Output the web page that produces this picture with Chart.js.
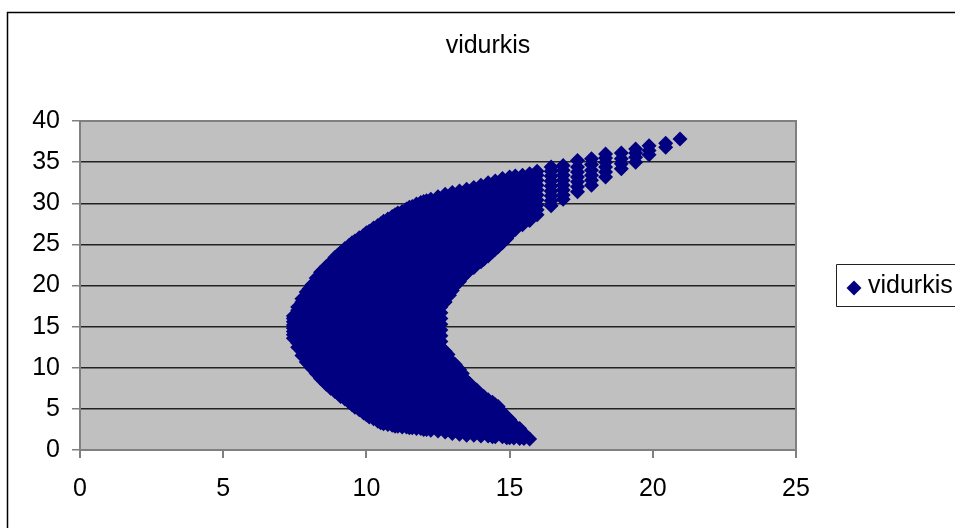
<!DOCTYPE html>
<html>
<head>
<meta charset="utf-8">
<script src="https://cdn.jsdelivr.net/npm/chart.js@4"></script>
<style>
html, body { margin: 0; padding: 0; background: #fff; overflow: hidden; }
canvas { display: block; }
</style>
</head>
<body>
<canvas id="myChart" width="955" height="528"></canvas>
<script>
const seriesName = 'vidurkis';
const xTicks = [0, 5, 10, 15, 20, 25];
const yTicks = [0, 5, 10, 15, 20, 25, 30, 35, 40];

// x of each column of diamonds
const columnX = [
    7.45, 7.6, 7.75, 7.9, 8, 8.1, 8.25, 8.4, 8.5, 8.6, 8.75, 8.9, 9, 9.1, 9.25, 9.4, 9.5, 9.6, 9.75, 9.9,
    10, 10.1, 10.25, 10.4, 10.5, 10.6, 10.75, 10.9, 11, 11.1, 11.25, 11.4, 11.5, 11.6, 11.75, 11.9,
    12, 12.1, 12.25, 12.5, 12.75, 13, 13.25, 13.5, 13.75, 14, 14.25, 14.5, 14.75, 15, 15.2,
    15.35, 15.45, 15.7, 15.96, 16.45, 16.87, 17.37, 17.86, 18.35, 18.9, 19.4, 19.87, 20.45, 20.95,
    // inner edge of the crescent and the lower arm
    12.6, 12.85, 12.9, 13.1, 13.35, 13.6, 13.85, 14.1, 14.4, 14.6, 14.9, 15.15, 15.5, 15.7
];

// y values in the same order as columnX
const columnY = [
    [13.6, 14, 14.4, 14.8, 15.2, 15.6, 16, 16.3],
    [12.5, 13, 13.5, 14, 14.5, 15, 15.5, 16, 16.5, 17, 17.4],
    [11.5, 12, 12.5, 13, 13.5, 14, 14.5, 15, 15.5, 16, 16.5, 17, 17.5, 18, 18.4],
    [10.7, 11.2, 12, 13, 14, 15, 16, 17, 18, 18.7, 19.2],
    [10.4, 11, 12, 13, 14, 15, 16, 17, 18, 19, 19.6],
    [9.9, 20.1],
    [9.3, 9.5, 10.5, 11.5, 12.5, 13.5, 14.5, 15.5, 16.5, 17.5, 18.5, 19.5, 20.5, 20.9],
    [8.7, 21.6],
    [8.4, 9, 10, 11, 12, 13, 14, 15, 16, 17, 18, 19, 20, 21, 21.9],
    [8, 22.3],
    [7.5, 8.5, 9.5, 10.5, 11.5, 12.5, 13.5, 14.5, 15.5, 16.5, 17.5, 18.5, 19.5, 20.5, 21.5, 22.5, 22.8],
    [7.1, 23.4],
    [6.9, 8, 9, 10, 11, 12, 13, 14, 15, 16, 17, 18, 19, 20, 21, 22, 23, 23.7],
    [6.5, 24],
    [6.2, 7.5, 8.5, 9.5, 10.5, 11.5, 12.5, 13.5, 14.5, 15.5, 16.5, 17.5, 18.5, 19.5, 20.5, 21.5, 22.5, 23.5, 24.5],
    [5.8, 24.9],
    [5.5, 6, 7, 8, 9, 10, 11, 12, 13, 14, 15, 16, 17, 18, 19, 20, 21, 22, 23, 24, 25, 25.2],
    [5.2, 25.4],
    [4.9, 5.5, 6.5, 7.5, 8.5, 9.5, 10.5, 11.5, 12.5, 13.5, 14.5, 15.5, 16.5, 17.5, 18.5, 19.5, 20.5, 21.5, 22.5, 23.5, 24.5, 25.5, 25.8],
    [4.5, 26.1],
    [4.3, 5, 6, 7, 8, 9, 10, 11, 12, 13, 14, 15, 16, 17, 18, 19, 20, 21, 22, 23, 24, 25, 26, 26.4],
    [4, 26.6],
    [3.8, 4.5, 5.5, 6.5, 7.5, 8.5, 9.5, 10.5, 11.5, 12.5, 13.5, 14.5, 15.5, 16.5, 17.5, 18.5, 19.5, 20.5, 21.5, 22.5, 23.5, 24.5, 25.5, 26.5, 27],
    [3.5, 27.3],
    [3.3, 4, 5, 6, 7, 8, 9, 10, 11, 12, 13, 14, 15, 16, 17, 18, 19, 20, 21, 22, 23, 24, 25, 26, 27, 27.5],
    [3.2, 27.8],
    [3.1, 3.5, 4.5, 5.5, 6.5, 7.5, 8.5, 9.5, 10.5, 11.5, 12.5, 13.5, 14.5, 15.5, 16.5, 17.5, 18.5, 19.5, 20.5, 21.5, 22.5, 23.5, 24.5, 25.5, 26.5, 27.5, 28.1],
    [3, 28.4],
    [2.9, 4, 5, 6, 7, 8, 9, 10, 11, 12, 13, 14, 15, 16, 17, 18, 19, 20, 21, 22, 23, 24, 25, 26, 27, 28, 28.6],
    [2.9, 28.8],
    [2.8, 3.5, 4.5, 5.5, 6.5, 7.5, 8.5, 9.5, 10.5, 11.5, 12.5, 13.5, 14.5, 15.5, 16.5, 17.5, 18.5, 19.5, 20.5, 21.5, 22.5, 23.5, 24.5, 25.5, 26.5, 27.5, 28.5, 29],
    [2.8, 29.3],
    [2.7, 3, 4, 5, 6, 7, 8, 9, 10, 11, 12, 13, 14, 15, 16, 17, 18, 19, 20, 21, 22, 23, 24, 25, 26, 27, 28, 29, 29.5],
    [2.7, 29.6],
    [2.6, 3.5, 4.5, 5.5, 6.5, 7.5, 8.5, 9.5, 10.5, 11.5, 12.5, 13.5, 14.5, 15.5, 16.5, 17.5, 18.5, 19.5, 20.5, 21.5, 22.5, 23.5, 24.5, 25.5, 26.5, 27.5, 28.5, 29.5, 29.9],
    [2.6, 30.1],
    [2.5, 3, 4, 5, 6, 7, 8, 9, 10, 11, 12, 13, 14, 15, 16, 17, 18, 19, 20, 21, 22, 23, 24, 25, 26, 27, 28, 29, 30, 30.2],
    [2.5, 30.3],
    [2.4, 3.5, 4.5, 5.5, 6.5, 7.5, 8.5, 9.5, 10.5, 11.5, 12.5, 13.5, 14.5, 15.5, 16.5, 17.5, 18.5, 19.5, 20.5, 21.5, 22.5, 23.5, 24.5, 25.5, 26.5, 27.5, 28.5, 29.5, 30.5],
    [2.3, 3, 4, 5, 6, 7, 8, 9, 10, 11, 12, 13, 14, 15, 16, 17, 18, 19, 20, 21, 22, 23, 24, 25, 26, 27, 28, 29, 30, 30.8],
    [2.2, 3.5, 4.5, 5.5, 6.5, 7.5, 8.5, 9.5, 10.5, 11.5, 12, 18, 18.5, 19.5, 20.5, 21.5, 22.5, 23.5, 24.5, 25.5, 26.5, 27.5, 28.5, 29.5, 30.5, 31.1],
    [2, 3, 4, 5, 6, 7, 8, 9, 10, 10.7, 19.4, 20, 21, 22, 23, 24, 25, 26, 27, 28, 29, 30, 31, 31.3],
    [1.9, 2.5, 3.5, 4.5, 5.5, 6.5, 7.5, 8.5, 9.5, 9.8, 20.5, 21.5, 22.5, 23.5, 24.5, 25.5, 26.5, 27.5, 28.5, 29.5, 30.5, 31.5],
    [1.8, 3, 4, 5, 6, 7, 8, 8.4, 21.5, 22, 23, 24, 25, 26, 27, 28, 29, 30, 31, 31.7],
    [1.8, 2.5, 3.5, 4.5, 5.5, 6.5, 7.5, 22.2, 22.5, 23.5, 24.5, 25.5, 26.5, 27.5, 28.5, 29.5, 30.5, 31.5, 31.9],
    [1.7, 3, 4, 5, 6, 6.7, 22.9, 24, 25, 26, 27, 28, 29, 30, 31, 32, 32.2],
    [1.7, 2.5, 3.5, 4.5, 5.5, 6.1, 23.6, 24.5, 25.5, 26.5, 27.5, 28.5, 29.5, 30.5, 31.5, 32.5],
    [1.6, 3, 4, 5, 5.5, 24.4, 25, 26, 27, 28, 29, 30, 31, 32, 32.7],
    [1.6, 2.5, 3.5, 4.6, 25.2, 25.5, 26.5, 27.5, 28.5, 29.5, 30.5, 31.5, 32.5, 33],
    [1.5, 2.6, 3.7, 26.2, 27, 28, 29, 30, 31, 32, 33, 33.2],
    [26.8, 27.8, 28.8, 29.8, 30.8, 31.8, 32.8, 33.3],
    [1.4, 2.6],
    [27.4, 28, 28.5, 29, 29.5, 30, 30.5, 31, 31.5, 32, 32.5, 33, 33.4],
    [1.35],
    [28.6, 29.2, 29.8, 30.4, 31, 31.6, 32.2, 32.8, 33.4, 33.9],
    [29.7, 30.3, 30.9, 31.5, 32.1, 32.7, 33.3, 33.9, 34.4],
    [30.5, 31, 31.6, 32.2, 32.8, 33.4, 34, 34.6],
    [31.4, 32, 32.6, 33.2, 33.8, 34.4, 35.2],
    [32.2, 32.8, 33.4, 34, 34.7, 35.4],
    [33.2, 33.8, 34.4, 35, 35.5, 36],
    [34.2, 34.8, 35.4, 36.1],
    [35, 35.6, 36.1, 36.6],
    [35.9, 36.4, 37],
    [36.8, 37.3],
    [37.8],
    [12.5, 13.2, 13.9, 14.6, 15.3, 16, 16.7, 17.4],
    [11, 11.6],
    [18.8, 19.2],
    [9.9, 10.4, 20, 20.5],
    [8.9, 9.3, 21, 21.4],
    [7.8, 8.1, 21.9, 22.3],
    [7, 7.3, 22.6, 23],
    [6.2, 6.5, 23.2, 23.6],
    [1.6, 2.3, 3, 3.7, 4.4, 5.1, 5.8, 24.1, 24.5],
    [5, 5.3, 24.7, 25.1],
    [1.5, 2.1, 2.7, 3.3, 4, 25.7, 26.1],
    [1.45, 2, 2.6, 3.1],
    [1.4, 2],
    [27.9, 28.5, 29.1, 29.7, 30.3, 30.9, 31.5, 32.1, 32.7, 33.2, 33.6]
];

const points = [];
columnX.forEach(function (x, i) {
    columnY[i].forEach(function (y) {
        points.push({ x: x, y: y });
    });
});

const fontFamily = '"Liberation Sans", Arial, sans-serif';

// grey plot background, plot edge, outer frame and the boxed legend
const chartDecor = {
    id: 'chartDecor',
    afterLayout(chart) {
        // title is centred over plot plus legend, not over the plot alone
        chart.titleBlock.left = 21;
        chart.titleBlock.right = 955;
    },
    beforeDatasetsDraw(chart) {
        const ctx = chart.ctx;
        const a = chart.chartArea;
        ctx.save();
        ctx.strokeStyle = '#808080';
        ctx.lineWidth = 2;
        ctx.beginPath();
        ctx.moveTo(a.left, a.top);
        ctx.lineTo(a.right, a.top);
        ctx.lineTo(a.right, a.bottom);
        ctx.stroke();
        ctx.restore();
    },
    beforeDraw(chart) {
        const ctx = chart.ctx;
        const a = chart.chartArea;
        ctx.save();
        ctx.fillStyle = '#c0c0c0';
        ctx.fillRect(a.left, a.top, a.right - a.left, a.bottom - a.top);
        ctx.strokeStyle = '#000';
        ctx.lineWidth = 1.5;
        ctx.beginPath();
        ctx.moveTo(7.5, 528);
        ctx.lineTo(7.5, 12.5);
        ctx.lineTo(955, 12.5);
        ctx.stroke();
        ctx.restore();
    },
    afterDraw(chart) {
        const ctx = chart.ctx;
        ctx.save();
        ctx.fillStyle = '#fff';
        ctx.strokeStyle = '#222';
        ctx.lineWidth = 1;
        ctx.beginPath();
        ctx.rect(836.5, 264.5, 130, 42);
        ctx.fill();
        ctx.stroke();
        ctx.fillStyle = '#000080';
        Chart.helpers.drawPoint(ctx, { pointStyle: 'rectRot', radius: 7.5, borderWidth: 0 }, 854, 288);
        ctx.fillStyle = '#000';
        ctx.font = '25px ' + fontFamily;
        ctx.textBaseline = 'middle';
        ctx.fillText(seriesName, 868, 286);
        ctx.restore();
    }
};

new Chart(document.getElementById('myChart'), {
    type: 'scatter',
    data: {
        datasets: [{
            label: seriesName,
            data: points,
            backgroundColor: '#000080',
            borderColor: '#000080',
            pointStyle: 'rectRot',
            pointRadius: 7.5,
            pointBorderWidth: 0,
            clip: false
        }]
    },
    options: {
        responsive: false,
        animation: false,
        layout: { padding: { left: 21, right: 159, top: 0, bottom: 0 } },
        plugins: {
            legend: { display: false },
            tooltip: { enabled: false },
            title: {
                display: true,
                text: seriesName,
                color: '#000',
                font: { size: 25, family: fontFamily, weight: 'normal' },
                padding: { top: 31, bottom: 60 }
            }
        },
        scales: {
            x: {
                type: 'linear',
                min: xTicks[0],
                max: xTicks[xTicks.length - 1],
                afterFit(scale) { scale.height = 78; },
                afterBuildTicks(scale) { scale.ticks = xTicks.map(v => ({ value: v })); },
                grid: { drawOnChartArea: false, tickLength: 8, tickColor: '#808080', lineWidth: 2 },
                border: { color: '#808080', width: 2 },
                ticks: {
                    color: '#000',
                    padding: 16,
                    maxRotation: 0,
                    font: { size: 25, family: fontFamily }
                }
            },
            y: {
                type: 'linear',
                min: yTicks[0],
                max: yTicks[yTicks.length - 1],
                afterFit(scale) { scale.width = 59; },
                afterBuildTicks(scale) { scale.ticks = yTicks.map(v => ({ value: v })); },
                grid: { color: '#222', tickColor: '#808080', tickLength: 8, lineWidth: 1.5 },
                border: { color: '#808080', width: 2 },
                ticks: {
                    color: '#000',
                    padding: 12,
                    font: { size: 25, family: fontFamily }
                }
            }
        }
    },
    plugins: [chartDecor]
});
</script>
</body>
</html>
